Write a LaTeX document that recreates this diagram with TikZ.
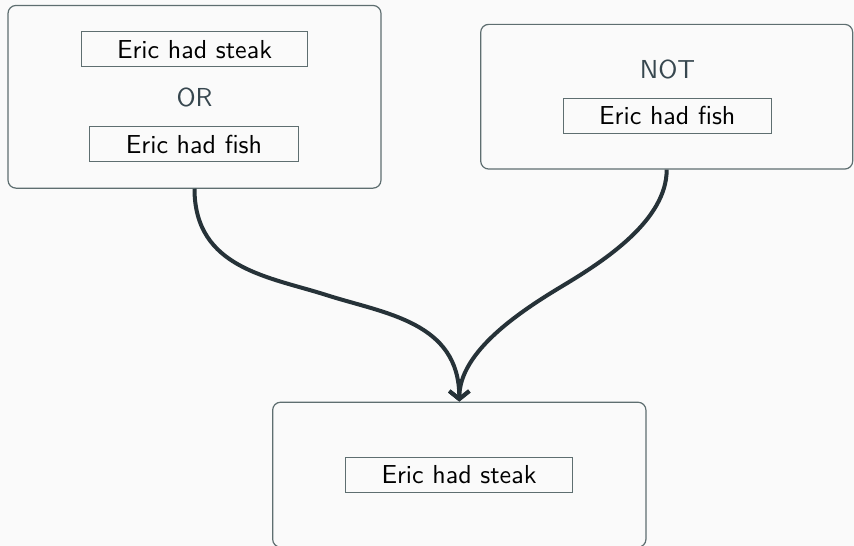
\documentclass[tikz,border=0pt]{standalone}
\usepackage{graphicx}
\usetikzlibrary{arrows.meta,calc}
\definecolor{canvas}{HTML}{FAFAFA}
\definecolor{boxline}{HTML}{5E6E70}
\definecolor{flowline}{HTML}{263238}
\definecolor{optext}{HTML}{37474F}
% 10pt sans text enlarged, keeping the 10pt design proportions
\newcommand{\bigsans}[1]{\scalebox{2.6}{\sffamily\fontsize{10}{12}\selectfont #1}}
\begin{document}
\begin{tikzpicture}[x=1pt,y=-1pt,
  group/.style={draw=boxline,line width=1.2pt,rounded corners=8pt,fill=canvas},
  claim/.style={draw=boxline,line width=1pt,minimum height=35pt,inner xsep=36pt,inner ysep=0pt,text=black},
  opword/.style={text=optext,inner sep=0pt},
  flow/.style={draw=flowline,line width=4pt,-{Straight Barb[length=8pt,width=20pt]}}]
  \fill[canvas] (0,0) rectangle (854,546);
  \useasboundingbox (0,0) rectangle (854,546);

  % premise: disjunction
  \node[group,minimum width=373pt,minimum height=182.7pt] (left) at (194.5,96.8) {};
  \node[claim] (lsteak) at (194.5,49.3) {\bigsans{Eric had steak}};
  \node[opword] (orword) at (194.5,97.7) {\bigsans{OR}};
  \node[claim] (lfish) at (194,144) {\bigsans{Eric had fish}};

  % premise: negation
  \node[group,minimum width=372pt,minimum height=144.7pt] (right) at (666.7,96.7) {};
  \node[opword] (notword) at (667.5,69) {\bigsans{NOT}};
  \node[claim] (rfish) at (667.3,115.8) {\bigsans{Eric had fish}};

  % conclusion
  \node[group,minimum width=373.3pt,minimum height=145pt] (bottom) at (459.3,474.7) {};
  \node[claim] (bsteak) at (459,474.7) {\bigsans{Eric had steak}};

  % inference connectors: S-curves through the midpoint between the boxes
  \draw[flow] (left.south)
    .. controls +(0,80) and +(-57.1,-18.3) .. ($(left.south)!0.5!(bottom.north)$)
    .. controls +(57.1,18.3) and +(0,-80) .. (bottom.north);
  \draw[flow] (right.south)
    .. controls +(0,50) and +(42.9,-25.7) .. ($(right.south)!0.5!(bottom.north)$)
    .. controls +(-42.9,25.7) and +(0,-50) .. (bottom.north);
\end{tikzpicture}
\end{document}
